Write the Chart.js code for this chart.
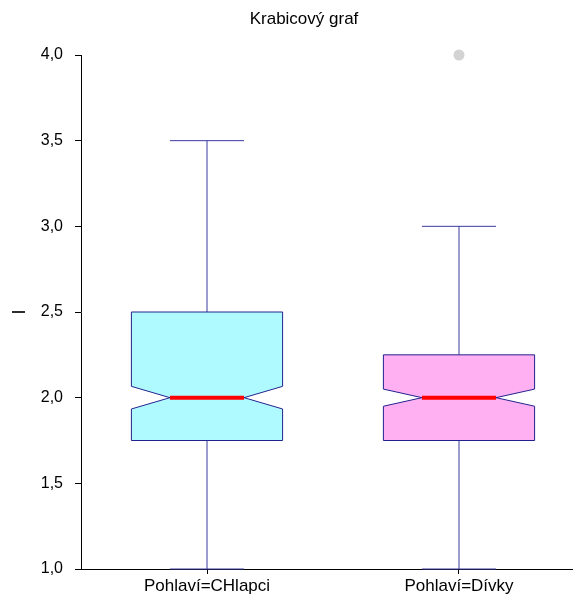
<!DOCTYPE html>
<html>
<head>
<meta charset="utf-8">
<script src="https://cdn.jsdelivr.net/npm/chart.js@4"></script>
<style>
  html, body { margin: 0; padding: 0; background: #fff; }
  #wrap { width: 573px; height: 597px; }
</style>
</head>
<body>
<div id="wrap"><canvas id="boxChart"></canvas></div>
<script>
// box plot data
const categories = ["Pohlaví=CHlapci", "Pohlaví=Dívky"];
const whiskerLow = [1.0, 1.0];
const q1 = [1.75, 1.75];
const median = [2.0, 2.0];
const q3 = [2.5, 2.25];
const whiskerHigh = [3.5, 3.0];
const notchLow = [1.934, 1.95];
const notchHigh = [2.066, 2.05];
const outliers = [[], [4.0]];
const yTicks = [1.0, 1.5, 2.0, 2.5, 3.0, 3.5, 4.0];
const boxColors = ["#affafe", "#ffb0f2"];

const FONT = "'Liberation Sans', Arial, sans-serif";
const BOX_HALF = 0.3;
const NOTCH_HALF = 0.147;
const CAP_HALF = 0.147;

const outlierPoints = [];
outliers.forEach((vals, i) => vals.forEach(v => outlierPoints.push({ x: i + 1, y: v })));

const boxPlugin = {
  id: "notchedBoxes",
  beforeDatasetsDraw(chart) {
    const { ctx, scales: { x, y } } = chart;
    ctx.save();
    categories.forEach((c, i) => {
      const cx = x.getPixelForValue(i + 1);
      const xl = x.getPixelForValue(i + 1 - BOX_HALF);
      const xr = x.getPixelForValue(i + 1 + BOX_HALF);
      const nl = x.getPixelForValue(i + 1 - NOTCH_HALF);
      const nr = x.getPixelForValue(i + 1 + NOTCH_HALF);
      const cl = x.getPixelForValue(i + 1 - CAP_HALF);
      const cr = x.getPixelForValue(i + 1 + CAP_HALF);
      const yq1 = y.getPixelForValue(q1[i]);
      const yq3 = y.getPixelForValue(q3[i]);
      const ymed = y.getPixelForValue(median[i]);
      const ynl = y.getPixelForValue(notchLow[i]);
      const ynh = y.getPixelForValue(notchHigh[i]);
      const ylo = y.getPixelForValue(whiskerLow[i]);
      const yhi = y.getPixelForValue(whiskerHigh[i]);

      // whiskers
      ctx.strokeStyle = "#3a3aa0";
      ctx.lineWidth = 1;
      ctx.beginPath();
      ctx.moveTo(cx, yq3); ctx.lineTo(cx, yhi);
      ctx.moveTo(cl, yhi); ctx.lineTo(cr, yhi);
      ctx.moveTo(cx, yq1); ctx.lineTo(cx, ylo);
      ctx.moveTo(cl, ylo); ctx.lineTo(cr, ylo);
      ctx.stroke();

      // notched box
      ctx.beginPath();
      ctx.moveTo(xl, yq3);
      ctx.lineTo(xr, yq3);
      ctx.lineTo(xr, ynh);
      ctx.lineTo(nr, ymed);
      ctx.lineTo(xr, ynl);
      ctx.lineTo(xr, yq1);
      ctx.lineTo(xl, yq1);
      ctx.lineTo(xl, ynl);
      ctx.lineTo(nl, ymed);
      ctx.lineTo(xl, ynh);
      ctx.closePath();
      ctx.fillStyle = boxColors[i];
      ctx.fill();
      ctx.strokeStyle = "#22228e";
      ctx.stroke();

      // median
      ctx.strokeStyle = "#ff0000";
      ctx.lineWidth = 4;
      ctx.beginPath();
      ctx.moveTo(nl, ymed); ctx.lineTo(nr, ymed);
      ctx.stroke();
    });
    ctx.restore();
  },
  afterDraw(chart) {
    const ctx = chart.ctx;
    ctx.save();
    ctx.font = "17px " + FONT;
    ctx.fillStyle = "#000";
    ctx.textAlign = "center";
    ctx.textBaseline = "middle";
    ctx.fillText("Krabicový graf", 304, 19);
    ctx.restore();
  }
};

const ctx = document.getElementById("boxChart");

const chart = new Chart(ctx, {
  type: "scatter",
  data: {
    datasets: [
      {
        label: "odlehlé",
        data: outlierPoints,
        clip: false,
        pointRadius: 5.5,
        pointBackgroundColor: "#d3d3d3",
        pointBorderWidth: 0,
        pointBorderColor: "#d3d3d3",
      },
    ],
  },
  options: {
    responsive: true,
    maintainAspectRatio: false,
    animation: false,
    devicePixelRatio: 1,
    layout: { autoPadding: false, padding: { top: 55, left: 0, right: 0, bottom: 0 } },
    plugins: {
      legend: { display: false },
      tooltip: { enabled: false },
      title: { display: false },
    },
    scales: {
      x: {
        type: "linear",
        min: 0.5,
        max: 0.5 + 492 / 252,
        afterBuildTicks: (scale) => {
          scale.ticks = categories.map((c, i) => ({ value: i + 1 }));
        },
        afterFit: (scale) => {
          scale.height = 28;
          scale.paddingLeft = 0;
          scale.paddingRight = 0;
        },
        ticks: {
          callback: (v) => categories[Math.round(v) - 1],
          font: { family: FONT, size: 17 },
          color: "#000",
          padding: 2,
          maxRotation: 0,
          autoSkip: false,
        },
        grid: { drawOnChartArea: false, drawTicks: true, tickLength: 5, color: "#000" },
        border: { display: true, color: "#000", width: 1 },
      },
      y: {
        min: 1,
        max: 4,
        afterBuildTicks: (scale) => {
          scale.ticks = yTicks.map(v => ({ value: v }));
        },
        afterFit: (scale) => { scale.width = 81; },
        ticks: {
          callback: (v) => v.toFixed(1).replace(".", ","),
          font: { family: FONT, size: 16 },
          color: "#000",
          padding: 12,
        },
        title: {
          display: true,
          text: "I",
          font: { family: FONT, size: 18 },
          color: "#000",
          padding: { top: 9, bottom: 0 },
        },
        grid: { drawOnChartArea: false, drawTicks: true, tickLength: 6, color: "#000" },
        border: { display: true, color: "#000", width: 1 },
      },
    },
  },
  plugins: [boxPlugin],
});
</script>
</body>
</html>
